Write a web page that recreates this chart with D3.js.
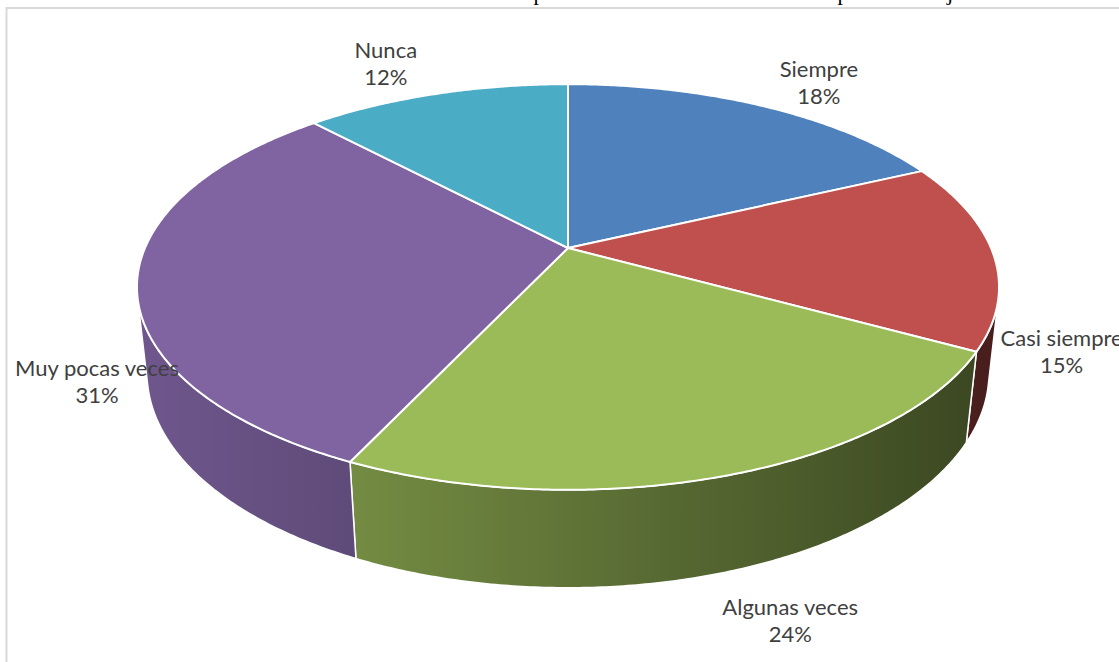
<!DOCTYPE html>
<html lang="es">
<head>
    <meta charset="UTF-8">
    <title>Pie 3D</title>
    <script src="https://d3js.org/d3.v7.min.js"></script>
    <style>
        html, body { margin: 0; padding: 0; background: #fff; }
        svg { display: block; }
    </style>
</head>
<body>
    <svg id="chart" width="1119" height="662"></svg>
    <script>
        // data
        const categories = ["Siempre", "Casi siempre", "Algunas veces", "Muy pocas veces", "Nunca"];
        const percentages = [18, 15, 24, 31, 12];
        const sliceColors = ["#4F81BD", "#C0504D", "#9BBB59", "#8064A2", "#4BACC6"];
        // only the descenders of the (cropped) title remain in the picture
        const titleFragments = ["p", "p", "j"];

        function drawPie3D() {
            const svg = d3.select("#chart");
            svg.selectAll("*").remove();

            const cx = 568, cy = 248;
            // perspective camera looking at a disk of radius 1
            const focal = 1953, camDist = 4.617, thickness = 0.232;
            const tilt = 27.5 * Math.PI / 180;
            const sinT = Math.sin(tilt), cosT = Math.cos(tilt);

            function project(a, level, k = 1) {
                const X = k * Math.sin(a), Z = -k * Math.cos(a), Y = -thickness * level;
                const d = camDist - (Y * sinT + Z * cosT);
                return [cx + focal * X / d, cy - focal * (Y * cosT - Z * sinT) / d];
            }
            function rim(a0, a1, level) {
                const n = Math.max(2, Math.ceil((a1 - a0) / (Math.PI / 360)));
                return d3.range(n + 1).map(i => project(a0 + (a1 - a0) * i / n, level));
            }

            // frame of the chart area
            svg.append("rect")
                .attr("x", 6.5).attr("y", 8)
                .attr("width", 1300).attr("height", 800)
                .attr("fill", "none").attr("stroke", "#d9d9d9").attr("stroke-width", 2);

            // cropped title remnants (the title itself lies above the picture)
            svg.append("g").selectAll("text")
                .data(titleFragments)
                .join("text")
                .attr("x", (d, i) => [539, 843, 950][i])
                .attr("y", 0)
                .attr("text-anchor", "middle")
                .attr("font-family", "Liberation Serif, serif")
                .attr("font-size", 22)
                .attr("fill", "#000")
                .text(d => d);

            const data = categories.map((c, i) => ({name: c, value: percentages[i]}));
            const pie = d3.pie().sort(null).value(d => d.value).startAngle(0).endAngle(2 * Math.PI);
            const arcs = pie(data);
            const color = d3.scaleOrdinal().domain(categories).range(sliceColors);
            const line = d3.line();

            // side shading gradients (light from the left)
            const defs = svg.append("defs");
            const shade = u => 0.62 - 0.25 * u;
            categories.forEach((c, i) => {
                const g = defs.append("linearGradient")
                    .attr("id", "side-" + i)
                    .attr("gradientUnits", "userSpaceOnUse")
                    .attr("x1", cx - 431).attr("y1", 0)
                    .attr("x2", cx + 431).attr("y2", 0);
                const base = d3.rgb(color(c));
                d3.range(0, 1.001, 0.125).forEach(t => {
                    const f = shade(-1 + 2 * t);
                    g.append("stop")
                        .attr("offset", t)
                        .attr("stop-color", d3.rgb(base.r * f, base.g * f, base.b * f).formatHex());
                });
            });

            // visible part of the cylinder wall
            const zVis = 1 / (camDist * cosT);
            const vis0 = Math.acos(-zVis), vis1 = 2 * Math.PI - vis0;
            const sides = svg.append("g");
            arcs.forEach((a, i) => {
                const s = Math.max(a.startAngle, vis0), e = Math.min(a.endAngle, vis1);
                if (s >= e) return;
                const pts = rim(s, e, 0).concat(rim(s, e, 1).reverse());
                sides.append("path")
                    .attr("d", line(pts) + "Z")
                    .attr("fill", `url(#side-${i})`)
                    .attr("stroke", "#fff")
                    .attr("stroke-width", 1.5)
                    .attr("stroke-linejoin", "round");
            });

            // top faces
            const tops = svg.append("g");
            arcs.forEach(a => {
                const pts = [[cx, cy]].concat(rim(a.startAngle, a.endAngle, 0));
                tops.append("path")
                    .attr("d", line(pts) + "Z")
                    .attr("fill", color(a.data.name))
                    .attr("stroke", "#fff")
                    .attr("stroke-width", 2)
                    .attr("stroke-linejoin", "round");
            });

            // data labels, outside the slices ("best fit" look)
            const labels = svg.append("g")
                .attr("font-family", "Lato, Carlito, Calibri, sans-serif")
                .attr("font-size", 22)
                .attr("fill", "#404040");
            const gapX = 35, leftBound = 15;
            arcs.forEach(a => {
                const g = labels.append("g");
                g.append("text").attr("text-anchor", "middle").attr("y", -13.5)
                    .attr("dominant-baseline", "central").text(a.data.name);
                g.append("text").attr("text-anchor", "middle").attr("y", 13.5)
                    .attr("dominant-baseline", "central").text(a.data.value + "%");
                const bb = g.node().getBBox();
                const hw = bb.width / 2, hh = bb.height / 2;
                const mid = (a.startAngle + a.endAngle) / 2;
                const front = -Math.cos(mid) > 0;
                const p = project(mid, front ? 1 : 0);
                let dx = p[0] - cx, dy = p[1] - cy;
                const len = Math.hypot(dx, dy);
                dx /= len; dy /= len;
                const gapY = front ? 26 : 14;
                let x = p[0] + dx * hw + Math.sign(dx) * gapX * (1.5 - Math.abs(dx));
                let y = p[1] + dy * (hh + gapY);
                x = Math.max(x, leftBound + hw);
                g.attr("transform", `translate(${x},${y})`);
            });
        }

        drawPie3D();
    </script>
</body>
</html>
